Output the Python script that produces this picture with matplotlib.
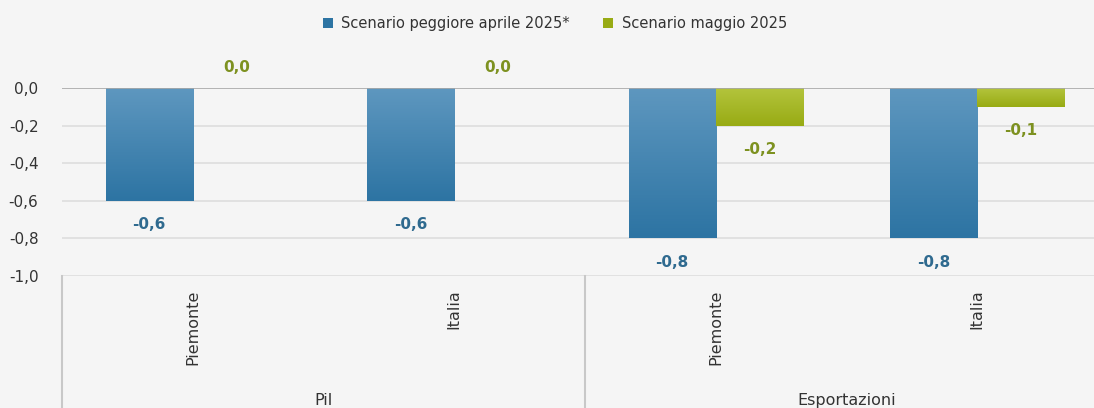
import numpy as np
import matplotlib.pyplot as plt
from matplotlib.colors import LinearSegmentedColormap

# data
groups = ['Pil', 'Esportazioni']
regions = ['Piemonte', 'Italia', 'Piemonte', 'Italia']
series_names = ['Scenario peggiore aprile 2025*', 'Scenario maggio 2025']
aprile = [-0.6, -0.6, -0.8, -0.8]
maggio = [0.0, 0.0, -0.2, -0.1]
yticks = [-1.0, -0.8, -0.6, -0.4, -0.2, 0.0]

bg = '#f5f5f5'
top_cols = ['#5e97bf', '#b3c43c']
bot_cols = ['#2d74a3', '#98ab14']
lab_cols = ['#2f6a8f', '#7d9120']
plt.rcParams['font.family'] = ['DejaVu Sans']


def fmt(v):
    return '{:.1f}'.format(v + 0.0).replace('.', ',').replace('-0,0', '0,0')


fig = plt.figure(figsize=(10.94, 4.08), dpi=100, facecolor=bg)
W, H = 1094, 408
ax = fig.add_axes([62 / W, (H - 276) / H, 4 * 261.5 / W, 188 / H])
ax.set_facecolor(bg)

x = np.arange(len(regions))
bw = 1 / 3

for k, vals in enumerate([aprile, maggio]):
    pos = x - bw / 2 if k == 0 else x + bw / 2
    bars = ax.bar(pos, vals, bw, color=bot_cols[k], label=series_names[k], zorder=3)
    cmap = LinearSegmentedColormap.from_list('g%d' % k, [top_cols[k], bot_cols[k]])
    for b, v in zip(bars, vals):
        if v == 0:
            continue
        x0 = b.get_x()
        im = ax.imshow(np.linspace(0, 1, 64).reshape(-1, 1), cmap=cmap, aspect='auto',
                       extent=[x0, x0 + bw, v, 0], zorder=3)
        im.set_clip_path(b)
    for p, v in zip(pos, vals):
        off = -17 if v < 0 else 15
        ax.annotate(fmt(v), (p, v), xytext=(0, off),
                    textcoords='offset points', ha='center', va='center',
                    fontsize=11, fontweight='bold', color=lab_cols[k], annotation_clip=False)

ax.set_xlim(-0.5, len(regions) - 0.5)
ax.set_ylim(-1.0, 0.0)

ax.set_yticks(yticks)
ax.set_yticklabels([fmt(t) for t in yticks], fontsize=11, color='#333333')
ax.tick_params(axis='y', length=0, pad=17)
ax.set_xticks([])
for t in yticks:
    zero = t == 0
    ax.axhline(t, color='#a8a8a8' if zero else '#dedede', lw=1.2, zorder=4 if zero else 1)
for s in ax.spines.values():
    s.set_visible(False)

# category axis
tr = ax.get_xaxis_transform()
for xi, r in zip(x, regions):
    ax.text(xi, -0.07, r, rotation=90, ha='center', va='top', fontsize=11.5, color='#333333',
            transform=tr, clip_on=False)
for gi, g in enumerate(groups):
    ax.text(2 * gi + 0.5, -0.62, g, ha='center', va='top', fontsize=11.5, color='#333333',
            transform=tr, clip_on=False)
for sx in [-0.5, 1.5, 3.5]:
    ax.plot([sx, sx], [0, -0.75], color='#c8c8c8', lw=1.5, transform=tr, clip_on=False)

leg = fig.legend(loc='upper center', bbox_to_anchor=(555 / W, 1 - 3 / H), ncol=2, frameon=False,
                 fontsize=10.5, handlelength=0.65, handleheight=0.65, columnspacing=2.3,
                 handletextpad=0.6, labelcolor='#333333')

fig.savefig('out.png', dpi=100, facecolor=bg)
